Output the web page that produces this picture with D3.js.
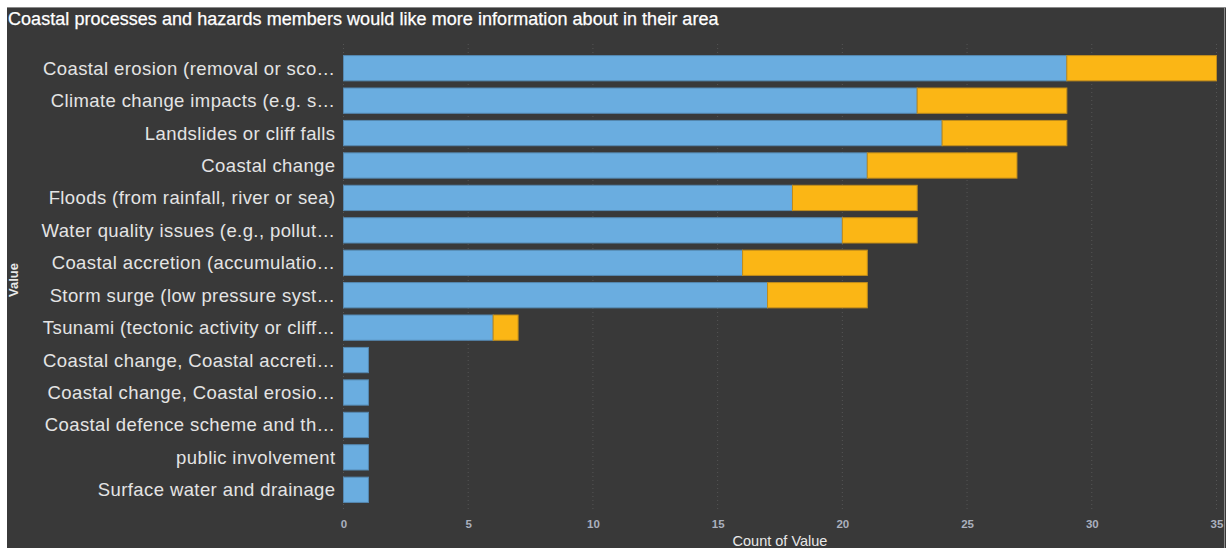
<!DOCTYPE html>
<meta charset="utf-8">
<html>
<head>
<style>
  body { margin:0; background:#fff; }
  svg { display:block; }
  .lbl { font-family: "Liberation Sans", Arial, sans-serif; }
</style>
<script src="https://d3js.org/d3.v7.min.js"></script>
</head>
<body>
<svg width="1226" height="548"></svg>
<script>
// categories (as shown, already truncated in the original)
var categories = [
  "Coastal erosion (removal or sco\u2026",
  "Climate change impacts (e.g. s\u2026",
  "Landslides or cliff falls",
  "Coastal change",
  "Floods (from rainfall, river or sea)",
  "Water quality issues (e.g., pollut\u2026",
  "Coastal accretion (accumulatio\u2026",
  "Storm surge (low pressure syst\u2026",
  "Tsunami (tectonic activity or cliff\u2026",
  "Coastal change, Coastal accreti\u2026",
  "Coastal change, Coastal erosio\u2026",
  "Coastal defence scheme and th\u2026",
  "public involvement",
  "Surface water and drainage"
];
var blueVals   = [29, 23, 24, 21, 18, 20, 16, 17, 6, 1, 1, 1, 1, 1];
var yellowVals = [6, 6, 5, 6, 5, 3, 5, 4, 1, 0, 0, 0, 0, 0];
var xTicks = [0, 5, 10, 15, 20, 25, 30, 35];

var svg = d3.select("svg");

// dark panel
svg.append("rect").attr("x", 7).attr("y", 7).attr("width", 1219).attr("height", 541)
  .attr("fill", "#393939");
svg.append("line").attr("x1", 7).attr("x2", 1226).attr("y1", 7.5).attr("y2", 7.5)
  .attr("stroke", "#8a8a8a");
svg.append("line").attr("x1", 1224.5).attr("x2", 1224.5).attr("y1", 7).attr("y2", 548)
  .attr("stroke", "#8a8a8a");

svg.append("text").attr("class", "lbl")
  .attr("x", 8).attr("y", 25)
  .attr("fill", "#fff").attr("stroke", "#fff").attr("stroke-width", 0.25)
  .style("font-size", "18px").style("letter-spacing", "0.05px")
  .text("Coastal processes and hazards members would like more information about in their area");

var x = d3.scaleLinear().domain([0, 35]).range([343.5, 1216.5]);
var y = d3.scaleBand().domain(categories).range([52, 506]).paddingInner(0.22).paddingOuter(0.11);

// dotted grid
svg.selectAll(".grid").data(xTicks).enter().append("line")
  .attr("x1", d => x(d)).attr("x2", d => x(d))
  .attr("y1", 44).attr("y2", 512)
  .attr("stroke", "#555").attr("stroke-dasharray", "1,3");

var rows = categories.map((c, i) => ({c: c, b: blueVals[i], yel: yellowVals[i]}));

svg.selectAll(".blue").data(rows).enter().append("rect")
  .attr("x", x(0)).attr("y", d => y(d.c))
  .attr("width", d => x(d.b) - x(0)).attr("height", y.bandwidth())
  .attr("fill", "#6aade0").attr("stroke", "#5588b0").attr("stroke-width", 1);

svg.selectAll(".yel").data(rows.filter(d => d.yel > 0)).enter().append("rect")
  .attr("x", d => x(d.b)).attr("y", d => y(d.c))
  .attr("width", d => x(d.b + d.yel) - x(d.b)).attr("height", y.bandwidth())
  .attr("fill", "#fbb615").attr("stroke", "#c08c1c").attr("stroke-width", 1);

// y labels
var yAxis = d3.axisLeft(y).tickSize(0).tickPadding(8);
var gy = svg.append("g").attr("transform", "translate(" + x(0) + ",0)").call(yAxis);
gy.select(".domain").remove();
gy.selectAll("text").attr("class", "lbl").attr("fill", "#e4e4e4")
  .style("font-size", "18.5px").style("letter-spacing", "0.4px").attr("dy", "0.35em");

// x axis
var xAxis = d3.axisBottom(x).tickValues(xTicks).tickSize(0).tickPadding(0);
var gx = svg.append("g").attr("transform", "translate(0,520)").call(xAxis);
gx.select(".domain").remove();
gx.selectAll("text").attr("class", "lbl").attr("fill", "#aab0be")
  .style("font-size", "11.5px").style("font-weight", "bold");

svg.append("text").attr("class", "lbl")
  .attr("x", (x(0) + x(35)) / 2).attr("y", 546)
  .attr("text-anchor", "middle").attr("fill", "#e8e8e8")
  .style("font-size", "14.5px").text("Count of Value");

svg.append("text").attr("class", "lbl")
  .attr("transform", "translate(18,280) rotate(-90)")
  .attr("text-anchor", "middle").attr("fill", "#e8e8e8")
  .style("font-size", "13px").style("font-weight", "bold").text("Value");
</script>
</body>
</html>
